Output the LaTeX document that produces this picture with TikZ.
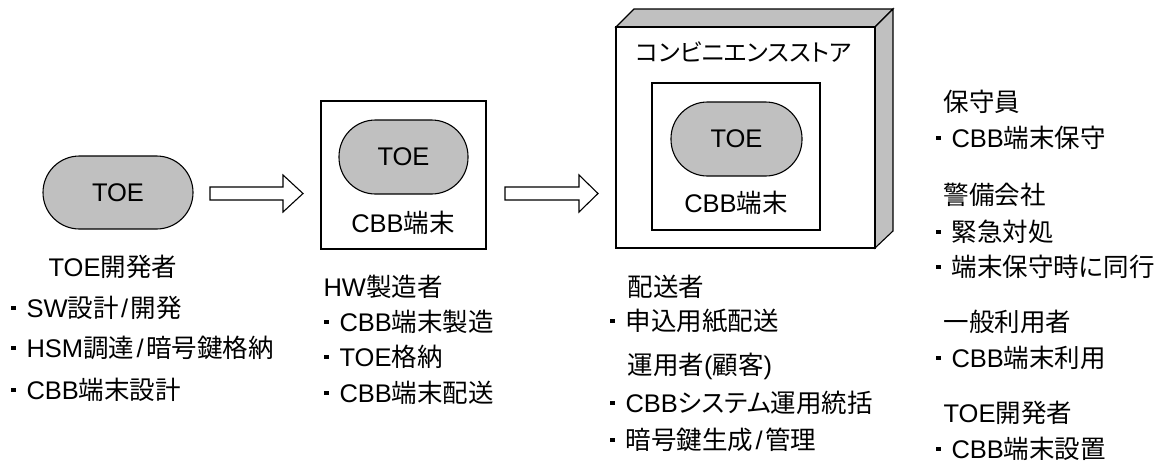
\documentclass[tikz,border=0pt]{standalone}
\usepackage{fontspec}
\setmainfont{Liberation Sans}
\newfontfamily\jp[RawFeature=+palt]{Noto Sans CJK JP}
\newcommand\J[1]{{\jp #1}}
\newcommand\bul{\makebox[26pt][c]{\rule[7.2pt]{4.2pt}{4.2pt}}}
\newcommand\sla{\kern2.5pt/\kern2.5pt}
\newcommand\fsz{\fontsize{25.5}{30}\selectfont}
\newcommand\fst{\fontsize{24}{28}\selectfont}
\definecolor{fillgray}{HTML}{C0C0C0}
\begin{document}
\begin{tikzpicture}[x=1pt,y=-1pt,line width=1.1pt,line join=miter,
 txt/.style={anchor=base west,inner sep=0pt,font=\fsz},
 ctxt/.style={anchor=base,inner sep=0pt,font=\fsz},
 stad/.style={draw,fill=fillgray,rounded corners=36.5pt,inner sep=0pt,font=\fsz},
 face/.style={draw,fill=fillgray},
 plain/.style={draw,fill=white},
 blockarrow/.style={draw,fill=white}]
\useasboundingbox (0,0) rectangle (1166,464);

% convenience store (3D box)
\draw[face] (616,27) -- (634,9) -- (893,9) -- (875,27) -- cycle;
\draw[face] (875,27) -- (893,9) -- (893,231) -- (875,248) -- cycle;
\draw[plain] (616,27) rectangle (875,248);
\draw[plain] (652,83) rectangle (820,230);
\node[stad,minimum width=131pt,minimum height=74pt] (toe3) at (736.5,139) {TOE};
\node[ctxt] (cbb3) at (736,212) {CBB\J{端末}};
\node[txt,font=\fst] (store) at (635,61) {\J{コンビニエンスストア}};

% CBB terminal box
\draw[plain] (321,101) rectangle (486,249);
\node[stad,minimum width=129pt,minimum height=74pt] (toe2) at (403.5,157) {TOE};
\node[ctxt] (cbb2) at (403,232) {CBB\J{端末}};

% left TOE
\node[stad,minimum width=150pt,minimum height=73pt] (toe1) at (118,192.5) {TOE};

% block arrows
\draw[blockarrow] (210,187) -- (283,187) -- (283,175) -- (303,193.5) -- (283,212) -- (283,200) -- (210,200) -- cycle;
\draw[blockarrow] (505,187) -- (579,187) -- (579,175) -- (598,193.5) -- (579,212) -- (579,200) -- (505,200) -- cycle;

% left column
\node[txt] (l0) at (48,276) {TOE\J{開発者}};
\node[txt] (l1) at (0,317) {\bul SW\J{設計}\sla\J{開発}};
\node[txt] (l2) at (0,357) {\bul HSM\J{調達}\sla\J{暗号鍵格納}};
\node[txt] (l3) at (0,399) {\bul CBB\J{端末設計}};

% middle column
\node[txt] (m0) at (323,296) {HW\J{製造者}};
\node[txt] (m1) at (313,331) {\bul CBB\J{端末製造}};
\node[txt] (m2) at (313,366) {\bul TOE\J{格納}};
\node[txt] (m3) at (313,402) {\bul CBB\J{端末配送}};

% store column
\node[txt] (s0) at (627,296) {\J{配送者}};
\node[txt] (s1) at (599,330) {\bul\J{申込用紙配送}};
\node[txt] (s2) at (627,374) {\J{運用者}(\J{顧客})};
\node[txt] (s3) at (599,412) {\bul CBB\J{システム運用統括}};
\node[txt] (s4) at (599,449) {\bul\J{暗号鍵生成}\sla\J{管理}};

% right column
\node[txt] (r0) at (943,111) {\J{保守員}};
\node[txt] (r1) at (925,147) {\bul CBB\J{端末保守}};
\node[txt] (r2) at (943,204) {\J{警備会社}};
\node[txt] (r3) at (925,241) {\bul\J{緊急対処}};
\node[txt] (r4) at (925,276) {\bul\J{端末保守時に同行}};
\node[txt] (r5) at (943,331) {\J{一般利用者}};
\node[txt] (r6) at (925,367) {\bul CBB\J{端末利用}};
\node[txt] (r7) at (943,422) {TOE\J{開発者}};
\node[txt] (r8) at (925,458) {\bul CBB\J{端末設置}};
\end{tikzpicture}
\end{document}
